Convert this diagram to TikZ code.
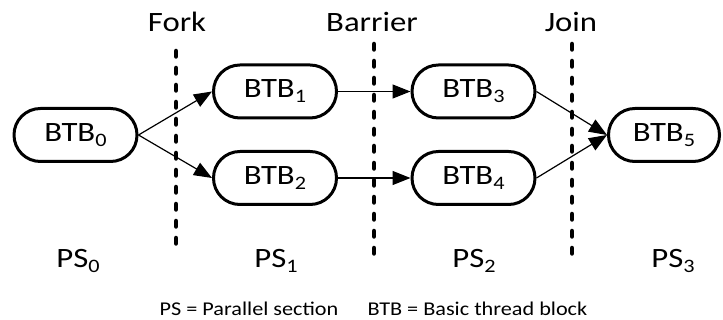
\documentclass[tikz,border=0pt]{standalone}
\usepackage{fontspec}
\setmainfont{Carlito}
\usetikzlibrary{arrows.meta}
\newcommand\hs[1]{\scalebox{1.17}[1]{#1}}
\newcommand\hsl[1]{\scalebox{1.14}[1]{#1}}
\newcommand\sbs[1]{\raisebox{-5pt}{\fontsize{19}{19}\selectfont #1}}
\begin{document}
\begin{tikzpicture}[x=1pt,y=-1pt,
  btb/.style={draw, line width=3pt, rounded corners=26.4pt, minimum width=123pt, minimum height=53pt, inner sep=0pt, font=\fontsize{28}{28}\selectfont},
  flow/.style={line width=1.2pt, -{Triangle[length=18pt,width=14pt]}},
  sync/.style={line width=4.5pt, line cap=round, dash pattern=on 5.5pt off 11.5pt},
  lbl/.style={font=\fontsize{28}{28}\selectfont, anchor=base, inner sep=0pt},
  legend/.style={font=\fontsize{19.5}{19.5}\selectfont, anchor=base, inner sep=0pt}]
\useasboundingbox (0,0) rectangle (723,320);
% blocks
\node[btb] (b0) at (75.5,135) {\hs{BTB\sbs{0}}};
\node[btb] (b1) at (275,91.5) {\hs{BTB\sbs{1}}};
\node[btb] (b2) at (275,178) {\hs{BTB\sbs{2}}};
\node[btb] (b3) at (473.5,91.5) {\hs{BTB\sbs{3}}};
\node[btb] (b4) at (473.5,178) {\hs{BTB\sbs{4}}};
\node[btb, minimum width=111pt] (b5) at (664,135) {\hs{BTB\sbs{5}}};
% sync lines
\coordinate (forkT) at (176,51);
\coordinate (forkB) at (176,243.5);
\coordinate (barT) at (374,44);
\coordinate (barB) at (374,253.5);
\coordinate (joinT) at (572,44);
\coordinate (joinB) at (572,253.5);
\draw[sync] (forkT) -- (forkB);
\draw[sync] (barT) -- (barB);
\draw[sync] (joinT) -- (joinB);
% arrows
\draw[flow] (b0.east) -- (b1.west);
\draw[flow] (b0.east) -- (b2.west);
\draw[flow] (b1.east) -- (b3.west);
\draw[flow] (b2.east) -- (b4.west);
\draw[flow] (b3.east) -- (b5.west);
\draw[flow] (b4.east) -- (b5.west);
% labels
\node[lbl] (fork) at (177,32) {\hs{Fork}};
\node[lbl] (barrier) at (372,32) {\hs{Barrier}};
\node[lbl] (join) at (571,32) {\hs{Join}};
\node[lbl] (ps0) at (78,268) {\hs{PS\sbs{0}}};
\node[lbl] (ps1) at (276,268) {\hs{PS\sbs{1}}};
\node[lbl] (ps2) at (474,268) {\hs{PS\sbs{2}}};
\node[lbl] (ps3) at (673,268) {\hs{PS\sbs{3}}};
\node[legend] (leg1) at (249,315.5) {\hsl{PS = Parallel section}};
\node[legend] (leg2) at (477.5,315.5) {\hsl{BTB = Basic thread block}};
\end{tikzpicture}
\end{document}
